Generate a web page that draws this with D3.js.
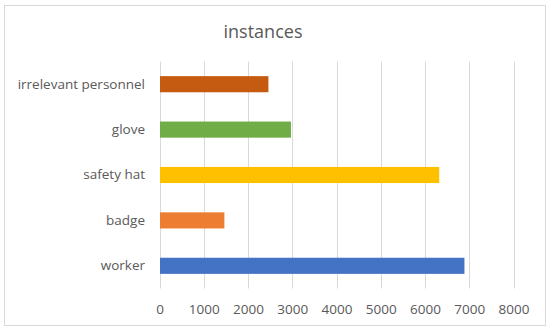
<!DOCTYPE html>
<html>
<head>
<meta charset="utf-8">
<script src="https://cdn.jsdelivr.net/npm/d3@7"></script>
<style>
  body { margin: 0; background: #fff; }
  text { font-family: "Open Sans", sans-serif; fill: #595959; }
</style>
</head>
<body>
<svg></svg>
<script>
const categories = ['irrelevant personnel', 'glove', 'safety hat', 'badge', 'worker'];
const values = [2450, 2960, 6310, 1455, 6880];
const colors = ['#C55A11', '#70AD47', '#FFC000', '#ED7D31', '#4472C4'];
const xTicks = [0, 1000, 2000, 3000, 4000, 5000, 6000, 7000, 8000];

const width = 550;
const height = 333;

let svg = d3.select('svg')
    .attr('width', width)
    .attr('height', height);

// chart frame
svg.append('rect')
    .attr('x', 4.5)
    .attr('y', 5.5)
    .attr('width', 541)
    .attr('height', 320)
    .attr('fill', '#fff')
    .attr('stroke', '#D9D9D9');

svg.append('text')
    .attr('x', 263)
    .attr('y', 38)
    .attr('text-anchor', 'middle')
    .style('font-size', '18px')
    .text('instances');

let xScale = d3.scaleLinear()
    .domain([0, 8000])
    .range([159.5, 513.5]);

let yScale = d3.scaleBand()
    .domain(categories)
    .range([61.5, 288.5])
    .paddingInner(0.645)
    .paddingOuter(0.3225);

// gridlines
svg.append('g')
    .selectAll('line')
    .data(xTicks)
    .enter()
    .append('line')
    .attr('x1', d => Math.round(xScale(d)) + 0.5)
    .attr('x2', d => Math.round(xScale(d)) + 0.5)
    .attr('y1', 61.5)
    .attr('y2', 288.5)
    .attr('stroke', '#D9D9D9');

svg.selectAll('.bar')
    .data(values)
    .enter()
    .append('rect')
    .attr('class', 'bar')
    .attr('x', xScale(0) + 0.5)
    .attr('y', (d, i) => yScale(categories[i]))
    .attr('width', d => xScale(d) - xScale(0))
    .attr('height', yScale.bandwidth())
    .attr('fill', (d, i) => colors[i]);

let xAxis = d3.axisBottom(xScale)
    .tickValues(xTicks)
    .tickFormat(d3.format('d'))
    .tickSize(0)
    .tickPadding(0);
let gx = svg.append('g')
    .attr('transform', 'translate(0, 309)')
    .call(xAxis);
gx.select('.domain').remove();
gx.selectAll('text')
    .attr('dy', '0.34em')
    .style('font-size', '13.5px')
    .style('font-family', '"Open Sans", sans-serif')
    .attr('fill', '#595959');

let yAxis = d3.axisLeft(yScale).tickSize(0).tickPadding(0);
let gy = svg.append('g')
    .attr('transform', 'translate(145, 0)')
    .call(yAxis);
gy.select('.domain').remove();
gy.selectAll('text')
    .style('font-size', '13.5px')
    .style('font-family', '"Open Sans", sans-serif')
    .attr('fill', '#595959');
</script>
</body>
</html>
